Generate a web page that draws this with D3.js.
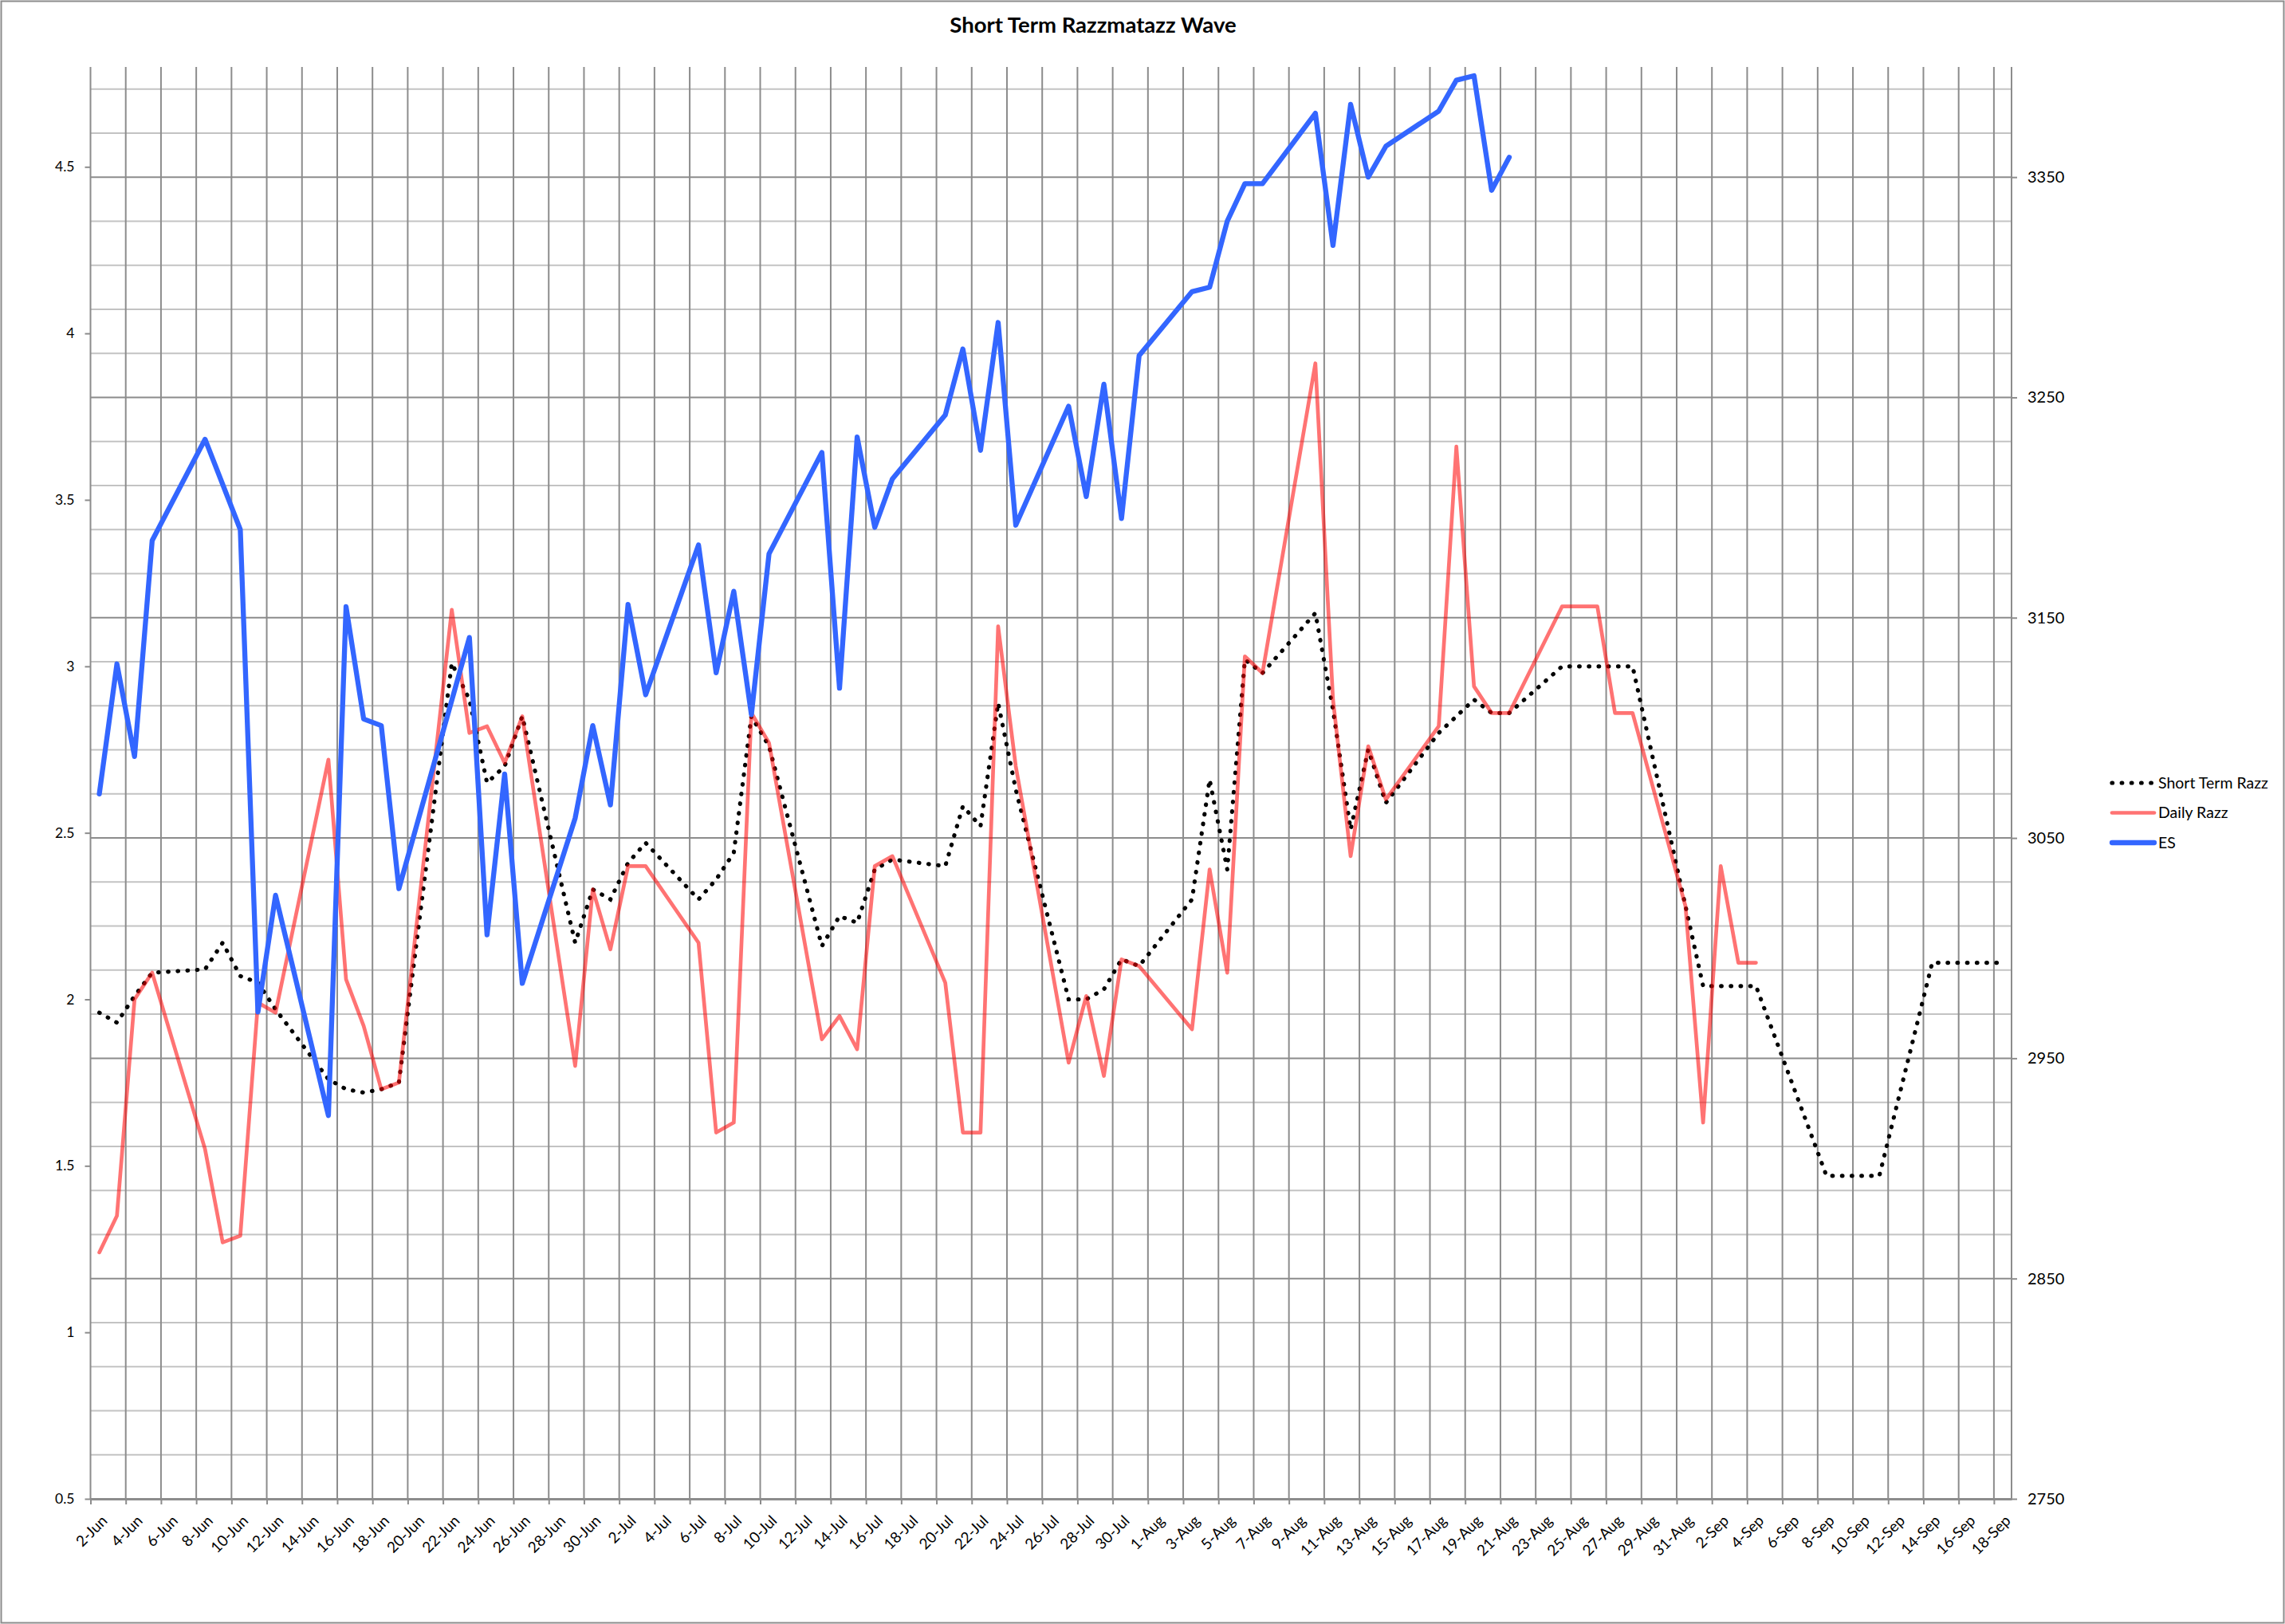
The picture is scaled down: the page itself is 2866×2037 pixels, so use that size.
<!DOCTYPE html>
<html>
<head>
<meta charset="utf-8">
<script src="https://cdn.jsdelivr.net/npm/d3@7"></script>
<style>
  html, body { margin: 0; padding: 0; background: #fff; }
  svg { display: block; font-family: Lato, "Open Sans", sans-serif; }
</style>
</head>
<body>
<svg id="chart" width="2866" height="2037"></svg>
<script>
// ---------------- DATA ----------------
const title = "Short Term Razzmatazz Wave";
const seriesNames = ["Short Term Razz", "Daily Razz", "ES"];

// trading days (2020)
const dates = [
  "2020-06-02","2020-06-03","2020-06-04","2020-06-05","2020-06-08","2020-06-09","2020-06-10","2020-06-11","2020-06-12",
  "2020-06-15","2020-06-16","2020-06-17","2020-06-18","2020-06-19","2020-06-22","2020-06-23","2020-06-24","2020-06-25",
  "2020-06-26","2020-06-29","2020-06-30",
  "2020-07-01","2020-07-02","2020-07-03","2020-07-06","2020-07-07","2020-07-08","2020-07-09","2020-07-10",
  "2020-07-13","2020-07-14","2020-07-15","2020-07-16","2020-07-17","2020-07-20","2020-07-21","2020-07-22","2020-07-23",
  "2020-07-24","2020-07-27","2020-07-28","2020-07-29","2020-07-30","2020-07-31",
  "2020-08-03","2020-08-04","2020-08-05","2020-08-06","2020-08-07","2020-08-10","2020-08-11","2020-08-12","2020-08-13",
  "2020-08-14","2020-08-17","2020-08-18","2020-08-19","2020-08-20","2020-08-21","2020-08-24","2020-08-25","2020-08-26",
  "2020-08-27","2020-08-28","2020-08-31",
  "2020-09-01","2020-09-02","2020-09-03","2020-09-04","2020-09-08","2020-09-09","2020-09-10","2020-09-11",
  "2020-09-14","2020-09-15","2020-09-16","2020-09-17","2020-09-18"
];

const shortTermRazz = [
  1.96,1.93,2.01,2.08,2.09,2.17,2.07,2.05,1.97,
  1.76,1.73,1.72,1.73,1.75,3.01,2.90,2.65,2.70,
  2.85,2.17,2.33,
  2.30,2.41,2.47,2.30,2.36,2.44,2.85,2.76,
  2.16,2.25,2.23,2.39,2.42,2.40,2.58,2.52,2.89,
  2.63,2.00,2.00,2.03,2.12,2.10,
  2.30,2.66,2.39,3.02,2.98,3.16,2.87,2.51,2.75,
  2.59,2.80,2.85,2.90,2.86,2.86,3.00,3.00,3.00,
  3.00,3.00,2.28,
  2.04,2.04,2.04,2.04,1.47,1.47,1.47,1.47,
  2.11,2.11,2.11,2.11,2.11
];

const dailyRazz = [
  1.24,1.35,2.00,2.08,1.55,1.27,1.29,1.99,1.96,
  2.72,2.06,1.92,1.73,1.75,3.17,2.80,2.82,2.71,
  2.85,1.80,2.33,
  2.15,2.40,2.40,2.17,1.60,1.63,2.86,2.77,
  1.88,1.95,1.85,2.40,2.43,2.05,1.60,1.60,3.12,
  2.70,1.81,2.01,1.77,2.12,2.10,
  1.91,2.39,2.08,3.03,2.98,3.91,2.90,2.43,2.76,
  2.60,2.82,3.66,2.94,2.86,2.86,3.18,3.18,3.18,
  2.86,2.86,2.28,
  1.63,2.40,2.11,2.11,null,null,null,null,
  null,null,null,null,null
];

const es = [
  3070,3129,3087,3185,3231,null,3190,2971,3024,
  2924,3155,3104,3101,3027,null,3141,3006,3079,
  2984,3059,3101,
  3065,3156,3115,3183,3125,3162,3106,3179,
  3225,3118,3232,3191,3213,3242,3272,3226,3284,
  3192,3246,3205,3256,3195,3269,
  3298,3300,3330,3347,3347,3379,3319,3383,3350,
  3364,3380,3394,3396,3344,3359,null,null,null,
  null,null,null,
  null,null,null,null,null,null,null,null,
  null,null,null,null,null
];

const leftTicks = [0.5,1,1.5,2,2.5,3,3.5,4,4.5];
const rightTicks = [2750,2850,2950,3050,3150,3250,3350];
const axisStart = "2020-06-02";
const axisEnd = "2020-09-19";

// ---------------- LAYOUT ----------------
const W = 2866, H = 2037;
const plot = {left: 113.5, right: 2523, top: 84, bottom: 1880};

const svg = d3.select("#chart");
const parse = d3.utcParse("%Y-%m-%d");
const d0 = parse(axisStart), d1 = parse(axisEnd);

const x = d3.scaleUtc().domain([d0, d1]).range([plot.left, plot.right]);
const xc = d => x(d3.utcHour.offset(d, 12)); // centre of the day band
const yL = d3.scaleLinear().domain([0.5, 4.8]).range([plot.bottom, plot.top]);
const yR = d3.scaleLinear().domain([2750, 3400]).range([plot.bottom, plot.top]);

// outer border
svg.append("rect").attr("x", 1.5).attr("y", 1.5).attr("width", W - 3).attr("height", H - 3)
  .attr("fill", "#fff").attr("stroke", "#8c8c8c").attr("stroke-width", 2);

// title
svg.append("text").attr("x", 1371).attr("y", 41).attr("text-anchor", "middle")
  .attr("font-weight", "bold").attr("font-size", 27.5).attr("fill", "#000").text(title);

// horizontal gridlines (secondary axis, minor 20, major 100)
const gridVals = d3.range(2770, 3400, 20);
svg.append("g").selectAll("line").data(gridVals).join("line")
  .attr("x1", plot.left).attr("x2", plot.right)
  .attr("y1", d => yR(d)).attr("y2", d => yR(d))
  .attr("stroke", d => ((d - 2750) % 100 === 0) ? "#8c8c8c" : "#c3c3c3")
  .attr("stroke-width", 2);

// vertical gridlines every 2 days
const nTicks = Math.floor(d3.utcDay.count(d0, d1) / 2) + 1;
const tickDates = d3.range(0, nTicks).map(k => d3.utcDay.offset(d0, 2 * k)).filter(d => d < d1);
svg.append("g").selectAll("line").data(tickDates).join("line")
  .attr("x1", d => x(d)).attr("x2", d => x(d))
  .attr("y1", plot.top).attr("y2", plot.bottom)
  .attr("stroke", "#8c8c8c").attr("stroke-width", 2);
// right plot edge
svg.append("line").attr("x1", plot.right).attr("x2", plot.right)
  .attr("y1", plot.top).attr("y2", plot.bottom)
  .attr("stroke", "#8c8c8c").attr("stroke-width", 2);

// bottom axis
const fmt = d3.utcFormat("%-d-%b");
const xAxis = d3.axisBottom(x).tickValues(tickDates).tickFormat(fmt).tickSize(7).tickSizeOuter(0);
const gx = svg.append("g").attr("transform", `translate(0,${plot.bottom})`).call(xAxis);
gx.select(".domain").attr("stroke", "#8c8c8c").attr("stroke-width", 3);
gx.selectAll(".tick line").attr("stroke", "#8c8c8c").attr("stroke-width", 2);
gx.selectAll(".tick text")
  .attr("font-size", 19).attr("fill", "#000").attr("font-family", "Lato, sans-serif")
  .attr("text-anchor", "end")
  .attr("transform", "translate(17,24) rotate(-45)")
  .attr("x", 0).attr("y", 0).attr("dy", "0.35em");

// left axis
const yAxisL = d3.axisLeft(yL).tickValues(leftTicks).tickFormat(d3.format("")).tickSize(7).tickSizeOuter(0);
const gl = svg.append("g").attr("transform", `translate(${plot.left},0)`).call(yAxisL);
gl.select(".domain").remove();
gl.selectAll(".tick line").attr("stroke", "#8c8c8c").attr("stroke-width", 2);
gl.selectAll(".tick text").attr("font-size", 17.5).attr("fill", "#000")
  .attr("font-family", "Lato, sans-serif").attr("x", -20);

// right axis
const yAxisR = d3.axisRight(yR).tickValues(rightTicks).tickFormat(d3.format("")).tickSize(7).tickSizeOuter(0);
const gr = svg.append("g").attr("transform", `translate(${plot.right},0)`).call(yAxisR);
gr.select(".domain").remove();
gr.selectAll(".tick line").attr("stroke", "#8c8c8c").attr("stroke-width", 2);
gr.selectAll(".tick text").attr("font-size", 20).attr("fill", "#000")
  .attr("font-family", "Lato, sans-serif").attr("x", 20);

// series
const pts = (vals) => dates.map((d, i) => ({d: parse(d), v: vals[i]})).filter(p => p.v !== null);

const lineL = d3.line().x(p => xc(p.d)).y(p => yL(p.v));
const lineR = d3.line().x(p => xc(p.d)).y(p => yR(p.v));

svg.append("path").datum(pts(shortTermRazz)).attr("d", lineL)
  .attr("fill", "none").attr("stroke", "#000").attr("stroke-width", 5.2)
  .attr("stroke-linecap", "round").attr("stroke-dasharray", "0.6 11.6");

svg.append("path").datum(pts(dailyRazz)).attr("d", lineL)
  .attr("fill", "none").attr("stroke", "#ff0000").attr("stroke-opacity", 0.55)
  .attr("stroke-width", 4.7).attr("stroke-linejoin", "round").attr("stroke-linecap", "round");

svg.append("path").datum(pts(es)).attr("d", lineR)
  .attr("fill", "none").attr("stroke", "#3366ff")
  .attr("stroke-width", 6.3).attr("stroke-linejoin", "round").attr("stroke-linecap", "round");

// legend
const legend = svg.append("g");
const legY = [982, 1019.5, 1057];
const legStyles = [
  {stroke: "#000", width: 5.2, dash: "0.6 11.6", op: 1},
  {stroke: "#ff0000", width: 4.7, dash: null, op: 0.55},
  {stroke: "#3366ff", width: 6.3, dash: null, op: 1}
];
seriesNames.forEach((name, i) => {
  const s = legStyles[i];
  const ln = legend.append("line").attr("x1", 2649).attr("x2", 2702)
    .attr("y1", legY[i]).attr("y2", legY[i])
    .attr("stroke", s.stroke).attr("stroke-width", s.width).attr("stroke-opacity", s.op)
    .attr("stroke-linecap", "round");
  if (s.dash) ln.attr("stroke-dasharray", s.dash);
  legend.append("text").attr("x", 2707).attr("y", legY[i]).attr("dy", "0.35em")
    .attr("font-size", 19.5).attr("fill", "#000").text(name);
});
</script>
</body>
</html>
